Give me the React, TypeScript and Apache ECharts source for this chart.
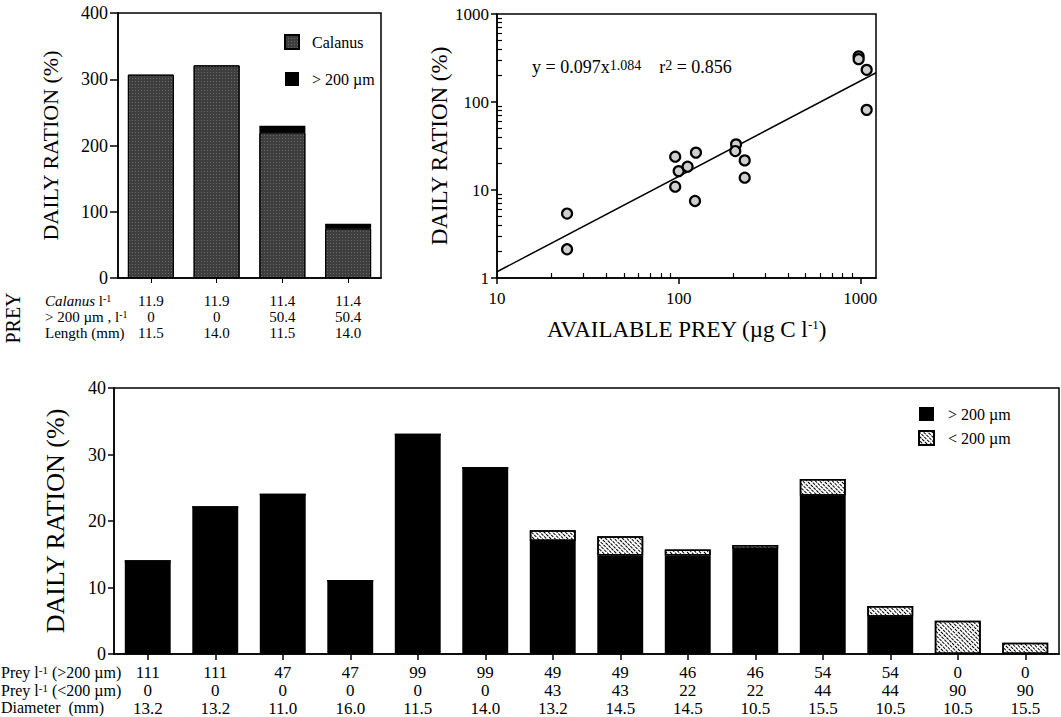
import React, { useEffect, useRef } from 'react';
import * as echarts from 'echarts';

const FONT = "'Liberation Serif', 'Times New Roman', serif";

// ---------- Top-left: daily ration vs prey treatment ----------
const tlCategories = ['1', '2', '3', '4'];
const tlCalanus = [307, 321, 220, 75];
const tlLarge = [0, 0, 10, 7];
const tlCalanusPerL = ['11.9', '11.9', '11.4', '11.4'];
const tlLargePerL = ['0', '0', '50.4', '50.4'];
const tlLength = ['11.5', '14.0', '11.5', '14.0'];

// ---------- Top-right: daily ration vs available prey (log-log) ----------
const preyCarbon = [24.3, 24.3, 95.7, 95.7, 100, 112, 124.5, 123, 207, 205, 231, 231, 979, 979, 1084, 1084];
const dailyRation = [5.4, 2.12, 23.9, 10.9, 16.4, 18.4, 26.6, 7.5, 33, 27.7, 21.7, 13.8, 330, 307, 232, 81.4];
const fitCoef = 0.097;
const fitExp = 1.084;
const fitR2 = 0.856;
const trXRange = [10, 1220];
const trYRange = [1, 1000];
const trXMinor = [20, 30, 40, 50, 60, 70, 80, 90, 200, 300, 400, 500, 600, 700, 800, 900];
const trYMinor = [2, 3, 4, 5, 6, 7, 8, 9, 20, 30, 40, 50, 60, 70, 80, 90, 200, 300, 400, 500, 600, 700, 800, 900];

// ---------- Bottom: daily ration per experiment ----------
const btmCategories = ['1', '2', '3', '4', '5', '6', '7', '8', '9', '10', '11', '12', '13', '14'];
const btmLarge = [14, 22.1, 24, 11, 33, 28, 17, 14.8, 14.8, 15.8, 23.8, 5.6, 0, 0];
const btmSmall = [0, 0, 0, 0, 0, 0, 1.6, 2.9, 0.9, 0.6, 2.5, 1.6, 5.0, 1.7];
const btmPreyLarge = ['111', '111', '47', '47', '99', '99', '49', '49', '46', '46', '54', '54', '0', '0'];
const btmPreySmall = ['0', '0', '0', '0', '0', '0', '43', '43', '22', '22', '44', '44', '90', '90'];
const btmDiameter = ['13.2', '13.2', '11.0', '16.0', '11.5', '14.0', '13.2', '14.5', '14.5', '10.5', '15.5', '10.5', '10.5', '15.5'];

const BLACK = '#000';
const axisLine = { show: true, lineStyle: { color: BLACK, width: 1.5 } };

const stipple = {
  symbol: 'rect',
  symbolSize: 1,
  color: 'rgba(255,255,255,0.22)',
  backgroundColor: '#3e3e3e',
  dashArrayX: [1, 2],
  dashArrayY: [1, 2],
  rotation: 0,
};
const hatch = {
  symbol: 'rect',
  symbolSize: 1,
  color: '#000',
  backgroundColor: '#fff',
  dashArrayX: [3, 1],
  dashArrayY: [1, 1.2],
  rotation: Math.PI / 4,
};

function buildOption() {
  const fit = (x: number) => fitCoef * Math.pow(x, fitExp);
  const supStyle = (size: number, sup: number) => ({
    n: { fontSize: size, fontFamily: FONT },
    i: { fontSize: size, fontFamily: FONT, fontStyle: 'italic' },
    s: { fontSize: sup, fontFamily: FONT, verticalAlign: 'top' },
  });
  return {
    animation: false,
    backgroundColor: '#fff',
    textStyle: { fontFamily: FONT, color: BLACK },
    grid: [
      { left: 118, top: 13, width: 263, height: 265, show: true, borderColor: BLACK, borderWidth: 1.5 },
      { left: 497, top: 14, width: 379, height: 264, show: true, borderColor: BLACK, borderWidth: 1.5 },
      { left: 114, top: 388, width: 945, height: 266, show: true, borderColor: BLACK, borderWidth: 1.5 },
    ],
    legend: [
      {
        data: ['Calanus', '> 200 µm'],
        left: 279, top: 29, orient: 'vertical', icon: 'rect',
        itemWidth: 14, itemHeight: 14, itemGap: 21, selectedMode: false,
        textStyle: { fontSize: 16, fontFamily: FONT, color: BLACK, padding: [0, 0, 0, 8] },
      },
      {
        data: ['> 200 µm', '< 200 µm'],
        left: 913, top: 401, orient: 'vertical', icon: 'rect',
        itemWidth: 15, itemHeight: 14, itemGap: 8, selectedMode: false,
        textStyle: { fontSize: 16, fontFamily: FONT, color: BLACK, padding: [0, 0, 0, 9] },
      },
    ],
    xAxis: [
      {
        gridIndex: 0, type: 'category', data: tlCategories, position: 'bottom',
        axisLine, axisTick: { show: true, alignWithLabel: true, length: 5, lineStyle: { color: BLACK } },
        axisLabel: {
          interval: 0, margin: 15, lineHeight: 16, fontSize: 15, color: BLACK, fontFamily: FONT,
          formatter: (_v: string, i: number) => `${tlCalanusPerL[i]}\n${tlLargePerL[i]}\n${tlLength[i]}`,
        },
        splitLine: { show: false },
      },
      {
        gridIndex: 1, type: 'log', logBase: 10, min: trXRange[0], max: trXRange[1], position: 'bottom',
        axisLine, axisTick: { show: true, length: 6, lineStyle: { color: BLACK, width: 1.5 } },
        axisLabel: {
          fontSize: 17, margin: 12, color: BLACK, fontFamily: FONT, showMaxLabel: false,
          formatter: (v: number) => String(Math.round(v)),
        },
        splitLine: { show: false },
        name: '{n|AVAILABLE PREY (µg C l}{s|-1}{n|)}',
        nameLocation: 'middle', nameGap: 40,
        nameTextStyle: {
          fontSize: 23, fontFamily: FONT, color: BLACK,
          rich: { n: { fontSize: 23, fontFamily: FONT, color: BLACK }, s: { fontSize: 13, fontFamily: FONT, color: BLACK, verticalAlign: 'top' } },
        },
      },
      {
        gridIndex: 1, type: 'value', position: 'bottom',
        min: Math.log10(trXRange[0]), max: Math.log10(trXRange[1]),
        axisLine: { show: false }, axisLabel: { show: false }, splitLine: { show: false },
        axisTick: { show: true, inside: true, length: 5, lineStyle: { color: BLACK, width: 1.2 }, customValues: trXMinor.map((v) => Math.log10(v)) },
      },
      {
        gridIndex: 2, type: 'category', data: btmCategories, position: 'bottom',
        axisLine, axisTick: { show: true, alignWithLabel: true, length: 6, lineStyle: { color: BLACK, width: 1.5 } },
        axisLabel: {
          interval: 0, margin: 9, lineHeight: 18, fontSize: 17, color: BLACK, fontFamily: FONT,
          formatter: (_v: string, i: number) => `${btmPreyLarge[i]}\n${btmPreySmall[i]}\n${btmDiameter[i]}`,
        },
        splitLine: { show: false },
      },
    ],
    yAxis: [
      {
        gridIndex: 0, type: 'value', min: 0, max: 400, interval: 100, position: 'left',
        axisLine, axisTick: { show: true, length: 8, lineStyle: { color: BLACK, width: 1.5 } },
        axisLabel: { fontSize: 18, margin: 10, color: BLACK, fontFamily: FONT },
        splitLine: { show: false },
        name: 'DAILY RATION (%)', nameLocation: 'middle', nameRotate: 90, nameGap: 57,
        nameTextStyle: { fontSize: 22, fontFamily: FONT, color: BLACK },
      },
      {
        gridIndex: 1, type: 'log', logBase: 10, min: trYRange[0], max: trYRange[1], position: 'left',
        axisLine, axisTick: { show: true, length: 6, lineStyle: { color: BLACK, width: 1.5 } },
        axisLabel: { fontSize: 17, margin: 8, color: BLACK, fontFamily: FONT, formatter: (v: number) => String(Math.round(v)) },
        splitLine: { show: false },
        name: 'DAILY RATION (%)', nameLocation: 'middle', nameRotate: 90, nameGap: 45,
        nameTextStyle: { fontSize: 23, fontFamily: FONT, color: BLACK },
      },
      {
        gridIndex: 1, type: 'value', position: 'left',
        min: Math.log10(trYRange[0]), max: Math.log10(trYRange[1]),
        axisLine: { show: false }, axisLabel: { show: false }, splitLine: { show: false },
        axisTick: { show: true, inside: true, length: 5, lineStyle: { color: BLACK, width: 1.2 }, customValues: trYMinor.map((v) => Math.log10(v)) },
      },
      {
        gridIndex: 2, type: 'value', min: 0, max: 40, interval: 10, position: 'left',
        axisLine, axisTick: { show: true, length: 6, lineStyle: { color: BLACK, width: 1.5 } },
        axisLabel: { fontSize: 18, margin: 8, color: BLACK, fontFamily: FONT },
        splitLine: { show: false },
        name: 'DAILY RATION (%)', nameLocation: 'middle', nameRotate: 90, nameGap: 46,
        nameTextStyle: { fontSize: 26, fontFamily: FONT, color: BLACK },
      },
    ],
    series: [
      {
        name: 'Calanus', type: 'bar', xAxisIndex: 0, yAxisIndex: 0, stack: 'tl', barWidth: '70%',
        data: tlCalanus,
        itemStyle: { color: '#3e3e3e', borderColor: BLACK, borderWidth: 1, decal: stipple },
      },
      {
        name: '> 200 µm', type: 'bar', xAxisIndex: 0, yAxisIndex: 0, stack: 'tl', barWidth: '70%',
        data: tlLarge,
        itemStyle: { color: BLACK },
      },
      {
        name: 'fit', type: 'line', xAxisIndex: 1, yAxisIndex: 1, showSymbol: false, z: 2,
        data: trXRange.map((x) => [x, fit(x)]),
        lineStyle: { color: BLACK, width: 1.5 },
      },
      {
        name: 'points', type: 'scatter', xAxisIndex: 1, yAxisIndex: 1, z: 3,
        symbol: 'circle', symbolSize: 10,
        data: preyCarbon.map((x, i) => [x, dailyRation[i]]),
        itemStyle: { color: '#cfcfcf', borderColor: BLACK, borderWidth: 2.2, opacity: 1 },
      },
      {
        name: '> 200 µm', type: 'bar', xAxisIndex: 3, yAxisIndex: 3, stack: 'b', barWidth: '68%',
        data: btmLarge,
        itemStyle: { color: BLACK },
      },
      {
        name: '< 200 µm', type: 'bar', xAxisIndex: 3, yAxisIndex: 3, stack: 'b', barWidth: '68%',
        data: btmSmall,
        itemStyle: { color: '#fff', borderColor: BLACK, borderWidth: 1.5, decal: hatch },
      },
    ],
    graphic: [
      {
        type: 'text', x: 13, y: 318, rotation: Math.PI / 2,
        style: { text: 'PREY', fontSize: 20, fontFamily: FONT, fill: BLACK, align: 'center', verticalAlign: 'middle' },
      },
      {
        type: 'text', x: 45, y: 301,
        style: { text: '{i|Calanus} {n|l}{s|-1}', fontSize: 15, fontFamily: FONT, fill: BLACK, verticalAlign: 'middle', rich: supStyle(15, 10) },
      },
      {
        type: 'text', x: 45, y: 317,
        style: { text: '{n|> 200 µm , l}{s|-1}', fontSize: 15, fontFamily: FONT, fill: BLACK, verticalAlign: 'middle', rich: supStyle(15, 10) },
      },
      {
        type: 'text', x: 45, y: 333,
        style: { text: 'Length (mm)', fontSize: 15, fontFamily: FONT, fill: BLACK, verticalAlign: 'middle' },
      },
      {
        type: 'text', x: 532, y: 67,
        style: {
          text: `{n|y = ${fitCoef}x}{s|${fitExp}}{n|    r}{s|2}{n| = ${fitR2}}`,
          fontSize: 18, fontFamily: FONT, fill: BLACK, verticalAlign: 'middle', rich: supStyle(18, 14),
        },
      },
      {
        type: 'text', x: 1, y: 672,
        style: { text: '{n|Prey l}{s|-1}{n| (>200 µm)}', fontSize: 16, fontFamily: FONT, fill: BLACK, verticalAlign: 'middle', rich: supStyle(16, 11) },
      },
      {
        type: 'text', x: 1, y: 690,
        style: { text: '{n|Prey l}{s|-1}{n| (<200 µm)}', fontSize: 16, fontFamily: FONT, fill: BLACK, verticalAlign: 'middle', rich: supStyle(16, 11) },
      },
      {
        type: 'text', x: 1, y: 707,
        style: { text: 'Diameter  (mm)', fontSize: 16, fontFamily: FONT, fill: BLACK, verticalAlign: 'middle' },
      },
    ],
  };
}

export default function App() {
  const ref = useRef<HTMLDivElement>(null);
  useEffect(() => {
    document.body.style.margin = '0';
    const chart = echarts.init(ref.current as HTMLDivElement, null, { renderer: 'svg' });
    chart.setOption(buildOption() as any);
    return () => chart.dispose();
  }, []);
  return <div ref={ref} style={{ width: 1061, height: 717 }} />;
}
